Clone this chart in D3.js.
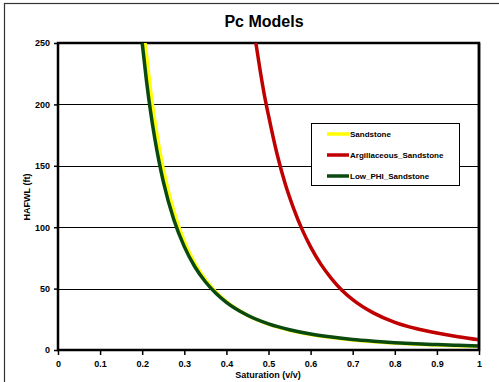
<!DOCTYPE html>
<html><head><meta charset="utf-8">
<script src="https://cdn.jsdelivr.net/npm/d3@7"></script>
<style>body{margin:0;background:#fff;}svg{display:block;}</style>
</head><body>
<svg id="c" width="499" height="382"></svg>
<script>
const title = "Pc Models";
const xLabel = "Saturation (v/v)";
const yLabel = "HAFWL (ft)";
const xTicks = [0,0.1,0.2,0.3,0.4,0.5,0.6,0.7,0.8,0.9,1];
const yTicks = [0,50,100,150,200,250];
const seriesNames = ["Sandstone","Argillaceous_Sandstone","Low_PHI_Sandstone"];
const seriesColors = ["#ffff00","#c00000","#0a4a10"];

const sandS = [0.207,0.21,0.22,0.23,0.24,0.25,0.275,0.3,0.325,0.35,0.375,0.4,0.45,0.5,0.55,0.6,0.65,0.7,0.75,0.8,0.85,0.9,0.95,1.0];
const sandH = [250,241,211,186.5,165.4,147.5,112.9,88.4,70.6,57.3,47.2,39.4,28.3,21.0,16.1,12.6,10.1,8.2,6.7,5.6,4.7,4.0,3.5,3.0];

const argS = [0.47,0.48,0.49,0.5,0.52,0.54,0.56,0.58,0.6,0.625,0.65,0.675,0.7,0.75,0.8,0.85,0.9,0.95,1.0];
const argH = [250,228,208,191,160,135,115,98,84,69.5,58,48.5,41,30,22.5,17.5,13.8,10.8,8.3];

const lowS = [0.2,0.21,0.22,0.23,0.24,0.25,0.275,0.3,0.325,0.35,0.375,0.4,0.45,0.5,0.55,0.6,0.65,0.7,0.75,0.8,0.85,0.9,0.95,1.0];
const lowH = [250,219.7,193.8,172,153.4,137.4,106.3,84.2,67.8,55.6,46.2,38.8,28.3,21.3,16.5,13.0,10.5,8.6,7.2,6.0,5.1,4.4,3.8,3.3];

const svg = d3.select("#c");
const m = {l:58, t:43, r:479, b:350};

svg.append("rect").attr("x",4.5).attr("y",3.5).attr("width",600).attr("height",600)
  .attr("fill","#fff").attr("stroke","#333").attr("stroke-width",1.2);

const x = d3.scaleLinear().domain([0,1]).range([m.l,m.r]);
const y = d3.scaleLinear().domain([0,250]).range([m.b,m.t]);

// grid
svg.append("g").selectAll("line").data(yTicks.filter(d=>d>0 && d<250)).join("line")
  .attr("x1",m.l).attr("x2",m.r).attr("y1",d=>Math.round(y(d))+0.5).attr("y2",d=>Math.round(y(d))+0.5)
  .attr("stroke","#000").attr("stroke-width",1);

// plot border
svg.append("rect").attr("x",m.l).attr("y",m.t).attr("width",m.r-m.l).attr("height",m.b-m.t)
  .attr("fill","none").attr("stroke","#000").attr("stroke-width",2.5);

// axes
const font = "'Liberation Sans', Arial, sans-serif";
const yAxis = d3.axisLeft(y).tickValues(yTicks).tickSize(4).tickPadding(4).tickFormat(d3.format("d"));
const gy = svg.append("g").attr("transform",`translate(${m.l},0)`).call(yAxis);
const xAxis = d3.axisBottom(x).tickValues(xTicks).tickSize(5).tickPadding(6).tickFormat(d=>d===0||d===1?String(d):d3.format(".1f")(d));
const gx = svg.append("g").attr("transform",`translate(0,${m.b})`).call(xAxis);
[gx,gy].forEach(g=>{
  g.select(".domain").remove();
  g.selectAll(".tick line").attr("stroke","#000").attr("stroke-width",1.5);
  g.selectAll("text").attr("font-family",font).attr("font-size",9).attr("font-weight","bold").attr("fill","#000");
});

// lines
const lineGen = d3.line().x(d=>x(d[0])).y(d=>y(d[1])).curve(d3.curveMonotoneX);
svg.append("clipPath").attr("id","pc").append("rect")
  .attr("x",m.l).attr("y",m.t).attr("width",m.r-m.l).attr("height",m.b-m.t);
const data = [d3.zip(sandS,sandH), d3.zip(argS,argH), d3.zip(lowS,lowH)];
const lg = svg.append("g").attr("clip-path","url(#pc)");
data.forEach((d,i)=>{
  lg.append("path").datum(d).attr("d",lineGen).attr("fill","none")
    .attr("stroke",seriesColors[i]).attr("stroke-width",3.5).attr("stroke-linejoin","round");
});

// redraw right border on top
svg.append("line").attr("x1",m.r).attr("x2",m.r).attr("y1",m.t).attr("y2",m.b).attr("stroke","#000").attr("stroke-width",2.5);

// legend
const leg = svg.append("g");
leg.append("rect").attr("x",311.5).attr("y",123.5).attr("width",148).attr("height",62)
  .attr("fill","#fff").attr("stroke","#000").attr("stroke-width",1);
seriesNames.forEach((n,i)=>{
  const yy = 134 + i*21;
  leg.append("line").attr("x1",327).attr("x2",349).attr("y1",yy).attr("y2",yy)
    .attr("stroke",seriesColors[i]).attr("stroke-width",3.5);
  leg.append("text").attr("x",350).attr("y",yy+3).text(n)
    .attr("font-family",font).attr("font-size",8).attr("font-weight","bold").attr("fill","#000");
});

// titles
svg.append("text").attr("x",264).attr("y",27).attr("text-anchor","middle").text(title)
  .attr("font-family",font).attr("font-size",16).attr("font-weight","bold");
svg.append("text").attr("x",268).attr("y",378).attr("text-anchor","middle").text(xLabel)
  .attr("font-family",font).attr("font-size",9).attr("font-weight","bold");
svg.append("text").attr("transform","translate(30,197) rotate(-90)").attr("text-anchor","middle").text(yLabel)
  .attr("font-family",font).attr("font-size",9).attr("font-weight","bold");
</script>
</body></html>
